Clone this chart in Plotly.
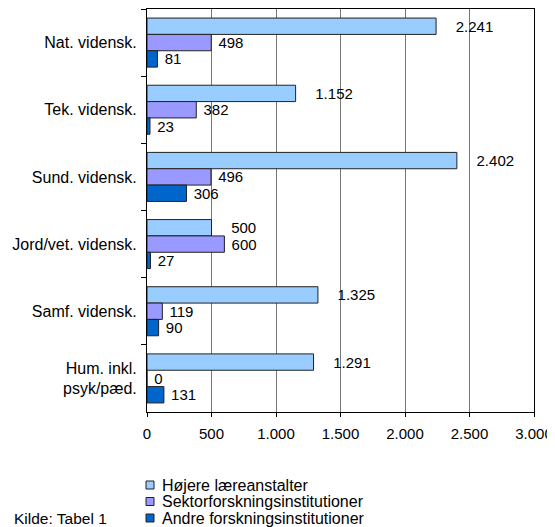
import plotly.graph_objects as go

categories = ["Nat. vidensk.", "Tek. vidensk.", "Sund. vidensk.", "Jord/vet. vidensk.",
              "Samf. vidensk.", "Hum. inkl.<br>psyk/pæd."]
series_names = ["Højere læreanstalter", "Sektorforskningsinstitutioner", "Andre forskningsinstitutioner"]
hoejere = [2241, 1152, 2402, 500, 1325, 1291]
sektor = [498, 382, 496, 600, 119, 0]
andre = [81, 23, 306, 27, 90, 131]
colors = ["#99CCFF", "#9999FF", "#0066CC"]
x_ticks = [0, 500, 1000, 1500, 2000, 2500, 3000]
source_note = "Kilde: Tabel 1"

FONT = "Liberation Sans, Arial, sans-serif"
NB = "\u00a0"
label_pad = [NB * 4, NB, NB]  # label padding per series (style)

fig = go.Figure()
for name, vals, col, pad in zip(series_names, [hoejere, sektor, andre], colors, label_pad):
    fig.add_trace(go.Bar(
        y=categories, x=vals, name=name, orientation="h",
        marker=dict(color=col, line=dict(color="#222222", width=1)),
        texttemplate=pad + "%{x:,}", textposition="outside",
        textfont=dict(size=15, color="black", family=FONT),
        constraintext="none", cliponaxis=False,
    ))

# manual legend (compact row spacing as in the reference)
shapes, annotations = [], []
for i, (name, col) in enumerate(zip(series_names, colors)):
    cy = -73 - 16.5 * i  # pixels below the plot bottom
    shapes.append(dict(type="rect", xref="paper", yref="paper",
                       xsizemode="pixel", ysizemode="pixel", xanchor=0, yanchor=0,
                       x0=-1, x1=7, y0=cy - 4, y1=cy + 4,
                       fillcolor=col, line=dict(color="#222222", width=1)))
    annotations.append(dict(text=name, xref="paper", yref="paper", x=0, y=0,
                            xshift=13, yshift=cy, xanchor="left", yanchor="middle",
                            showarrow=False, font=dict(size=16, family=FONT, color="black")))
annotations.append(dict(text=source_note, xref="paper", yref="paper", x=0, y=0,
                        xshift=-135, yshift=-106, xanchor="left", yanchor="middle",
                        showarrow=False, font=dict(size=15.5, family=FONT, color="black")))

fig.update_layout(
    width=547, height=519,
    margin=dict(l=139, r=21, t=1, b=115, autoexpand=False),
    paper_bgcolor="white", plot_bgcolor="white",
    barmode="group", bargap=0.27, bargroupgap=0,
    separators=",.",
    font=dict(family=FONT, size=15, color="black"),
    showlegend=False,
    xaxis=dict(range=[0, 3000], tickvals=x_ticks, tickformat=",", automargin=False,
               showgrid=True, gridcolor="#777777", gridwidth=1,
               showline=True, linecolor="black", linewidth=1, mirror=True,
               ticks="outside", ticklen=4, tickcolor="black", zeroline=False,
               tickfont=dict(size=15), ticklabelstandoff=4),
    yaxis=dict(autorange="reversed", showline=True, linecolor="black", linewidth=1,
               mirror=True, ticks="outside", ticklen=5, tickcolor="black", automargin=False,
               tickson="boundaries", tickfont=dict(size=16), ticklabelstandoff=6),
    shapes=shapes,
    annotations=annotations,
)
fig.write_html("out.html")
